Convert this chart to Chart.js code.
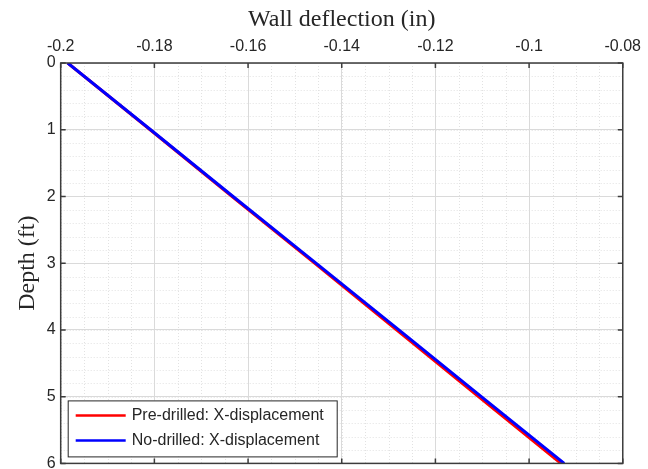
<!DOCTYPE html>
<html>
<head>
<meta charset="utf-8">
<title>Wall deflection</title>
<script src="https://cdn.jsdelivr.net/npm/chart.js@4.4.1/dist/chart.umd.min.js"></script>
<style>
  html, body { margin: 0; padding: 0; background: #fff; overflow: hidden; }
</style>
</head>
<body>
<!-- a little taller than the view so the last depth label is clipped at the bottom edge -->
<canvas id="deflection-chart" width="648" height="478"></canvas>
<script>
// depth below top of wall (ft) and lateral deflection (in)
const depths = [0, 1, 2, 3, 4, 5, 6];
const preDrilled = [-0.1985, -0.1809, -0.1634, -0.1458, -0.1283, -0.1108, -0.0932];
const noDrilled = [-0.1985, -0.1808, -0.1632, -0.1455, -0.1278, -0.1102, -0.0925];
const seriesNames = ['Pre-drilled: X-displacement', 'No-drilled: X-displacement'];
const xTicks = [-0.2, -0.18, -0.16, -0.14, -0.12, -0.1, -0.08];
const yTicks = [0, 1, 2, 3, 4, 5, 6];
const xMinorStep = 0.005;
const yMinorStep = 0.2;

const axisColor = '#3c3c3c';
const textColor = '#262626';
const sansFont = '"Liberation Sans", Arial, sans-serif';
const serifFont = '"Liberation Serif", "Times New Roman", serif';

function toPoints(xs) {
    return depths.map((d, i) => ({ x: xs[i], y: d }));
}

// minor dotted grid, drawn under everything else
const minorGrid = {
    id: 'minorGrid',
    beforeDraw(chart) {
        const { ctx, chartArea: a, scales: { x, y } } = chart;
        ctx.save();
        ctx.fillStyle = '#fff';
        ctx.fillRect(0, 0, chart.width, chart.height);
        ctx.strokeStyle = '#e2e2e2';
        ctx.lineWidth = 1;
        ctx.setLineDash([1, 2]);
        ctx.beginPath();
        for (let v = x.min; v < x.max; v += xMinorStep) {
            const px = Math.round(x.getPixelForValue(v)) + 0.5;
            ctx.moveTo(px, a.top);
            ctx.lineTo(px, a.bottom);
        }
        for (let v = y.min; v < y.max; v += yMinorStep) {
            const py = Math.round(y.getPixelForValue(v)) + 0.5;
            ctx.moveTo(a.left, py);
            ctx.lineTo(a.right, py);
        }
        ctx.stroke();
        ctx.restore();
    }
};

// box around the plot with inward tick marks, plus the legend
const frame = {
    id: 'frame',
    afterDatasetsDraw(chart) {
        const { ctx, chartArea: a, scales: { x, y } } = chart;
        ctx.save();
        ctx.strokeStyle = axisColor;
        ctx.lineWidth = 1.5;
        ctx.strokeRect(a.left, a.top, a.right - a.left, a.bottom - a.top);
        ctx.beginPath();
        x.ticks.forEach(t => {
            const px = x.getPixelForValue(t.value);
            ctx.moveTo(px, a.top); ctx.lineTo(px, a.top + 5);
            ctx.moveTo(px, a.bottom); ctx.lineTo(px, a.bottom - 5);
        });
        y.ticks.forEach(t => {
            const py = y.getPixelForValue(t.value);
            ctx.moveTo(a.left, py); ctx.lineTo(a.left + 5, py);
            ctx.moveTo(a.right, py); ctx.lineTo(a.right - 5, py);
        });
        ctx.stroke();

        // legend box, lower left
        const lx = a.left + 7, ly = a.bottom - 63, lw = 269, lh = 56;
        ctx.fillStyle = '#fff';
        ctx.fillRect(lx, ly, lw, lh);
        ctx.strokeStyle = '#262626';
        ctx.lineWidth = 1;
        ctx.strokeRect(lx + 0.5, ly + 0.5, lw, lh);
        ctx.font = '16px ' + sansFont;
        ctx.textBaseline = 'middle';
        const colors = ['#ff0000', '#0000ff'];
        seriesNames.forEach((name, i) => {
            const rowY = ly + 15 + i * 25;
            ctx.strokeStyle = colors[i];
            ctx.lineWidth = 2.5;
            ctx.beginPath();
            ctx.moveTo(lx + 8, rowY);
            ctx.lineTo(lx + 58, rowY);
            ctx.stroke();
            ctx.fillStyle = textColor;
            ctx.fillText(name, lx + 64, rowY);
        });
        ctx.restore();
    }
};

const ctx = document.getElementById('deflection-chart').getContext('2d');

new Chart(ctx, {
    type: 'scatter',
    data: {
        datasets: [
            {
                label: seriesNames[0],
                data: toPoints(preDrilled),
                showLine: true,
                borderColor: '#ff0000',
                borderWidth: 3,
                pointRadius: 0,
                order: 2
            },
            {
                label: seriesNames[1],
                data: toPoints(noDrilled),
                showLine: true,
                borderColor: '#0000ff',
                borderWidth: 3,
                pointRadius: 0,
                order: 1
            }
        ]
    },
    options: {
        responsive: false,
        animation: false,
        devicePixelRatio: 1,
        layout: { padding: { top: 5, left: 9, right: 0, bottom: 0 } },
        plugins: {
            legend: { display: false },
            tooltip: { enabled: false }
        },
        scales: {
            x: {
                type: 'linear',
                position: 'top',
                min: -0.2,
                max: -0.08,
                afterBuildTicks: s => { s.ticks = xTicks.map(v => ({ value: v })); },
                afterFit: s => { s.height = 58; },
                ticks: {
                    color: textColor,
                    padding: 7,
                    font: { family: sansFont, size: 16 },
                    callback: v => String(+v.toFixed(4))
                },
                grid: { color: '#dadada', lineWidth: 1, drawTicks: false },
                border: { display: false },
                title: {
                    display: true,
                    text: 'Wall deflection (in)',
                    color: textColor,
                    padding: { top: 0, bottom: 0 },
                    font: { family: serifFont, size: 24 }
                }
            },
            y: {
                type: 'linear',
                reverse: true,
                min: 0,
                max: 6,
                afterBuildTicks: s => { s.ticks = yTicks.map(v => ({ value: v })); },
                ticks: {
                    color: textColor,
                    padding: 5,
                    font: { family: sansFont, size: 16 }
                },
                grid: { color: '#dadada', lineWidth: 1, drawTicks: false },
                border: { display: false },
                title: {
                    display: true,
                    text: 'Depth (ft)',
                    color: textColor,
                    padding: { top: 4, bottom: 0 },
                    font: { family: serifFont, size: 24 }
                }
            }
        }
    },
    plugins: [minorGrid, frame]
});
</script>
</body>
</html>
